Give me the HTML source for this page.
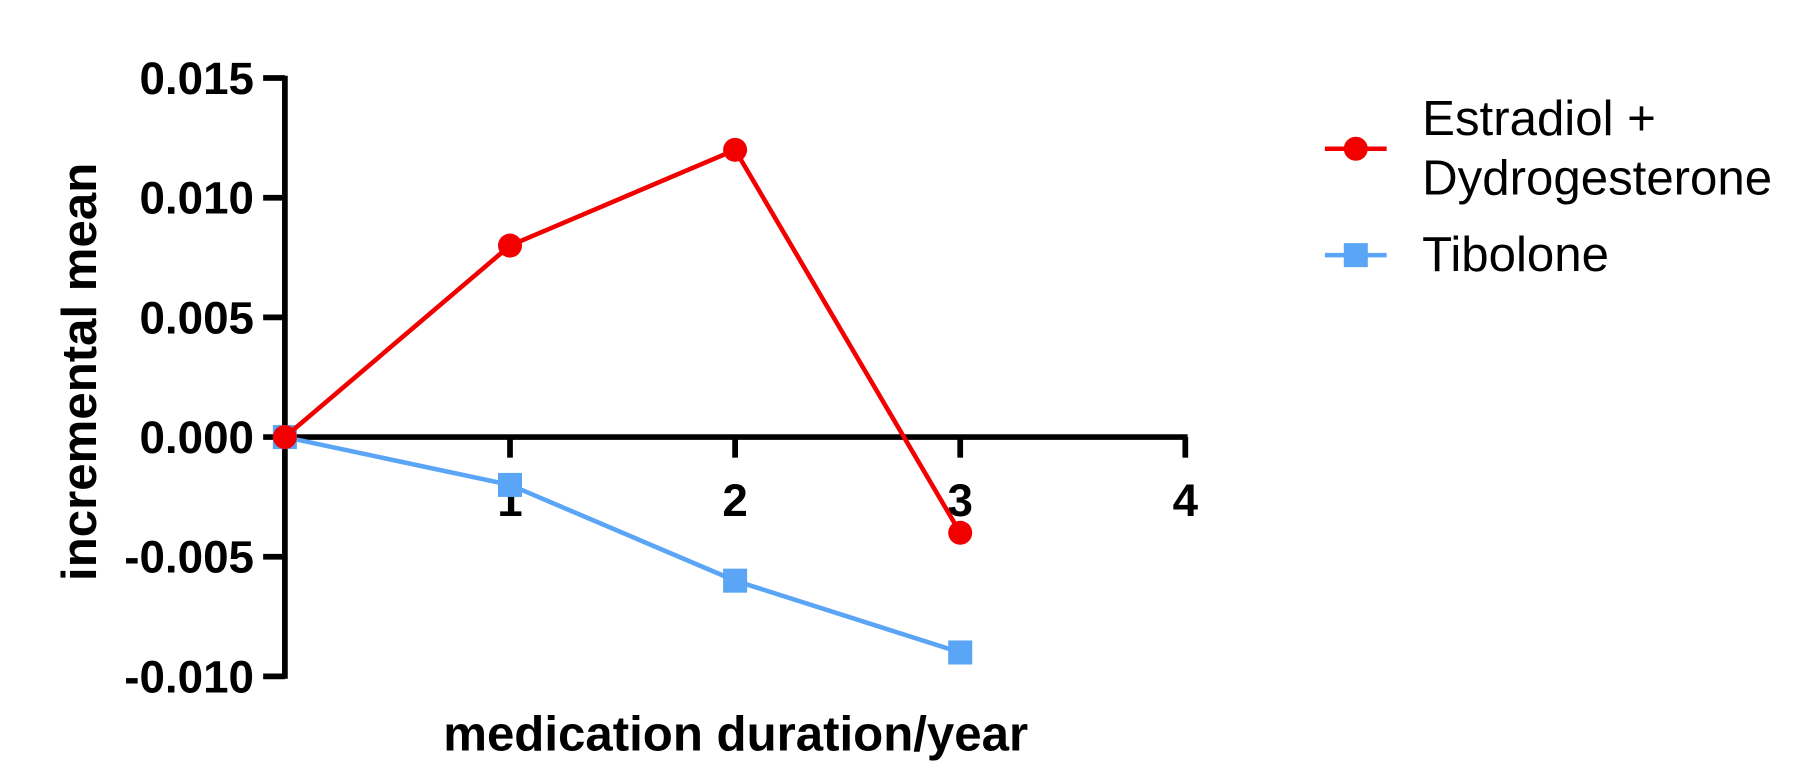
<!DOCTYPE html>
<html><head><meta charset="utf-8"><style>
body{margin:0;background:#fff;}
svg{display:block;font-family:"Liberation Sans",Arial,sans-serif;}
</style></head><body>
<svg id="chart" width="1794" height="774" viewBox="0 0 1568 676.5"></svg>
<script>
const years=[0,1,2,3];
const estradiolValues=[0,0.008,0.012,-0.004];
const tiboloneValues=[0,-0.002,-0.006,-0.009];
const yTicks=[0.015,0.010,0.005,0.000,-0.005,-0.010];
const yTickLabels=["0.015","0.010","0.005","0.000","-0.005","-0.010"];
const xTicks=[1,2,3,4];
const xTickLabels=["1","2","3","4"];

const svg=document.getElementById('chart');
const NS='http://www.w3.org/2000/svg';
const X=v=>249+v*196.75;
const Y=v=>382-v*20920;
function mk(tag,attrs,name){const e=document.createElementNS(NS,tag);for(const k in attrs)e.setAttribute(k,attrs[k]);


svg.appendChild(e);return e;}

mk('line',{x1:249,y1:Y(0.015)-2,x2:249,y2:Y(-0.010)+2,stroke:'#000','stroke-width':5},'y-axis');
mk('line',{x1:247,y1:Y(0),x2:X(4)+2,y2:Y(0),stroke:'#000','stroke-width':5},'x-axis');
yTicks.forEach((t,i)=>{
  mk('line',{x1:230,y1:Y(t),x2:249,y2:Y(t),stroke:'#000','stroke-width':5},'y-tick');
  const tx=mk('text',{x:222,y:Y(t)+14,'text-anchor':'end','font-size':40,'font-weight':'bold'},'y-tick-label');
  tx.textContent=yTickLabels[i];
});
xTicks.forEach((t,i)=>{
  mk('line',{x1:X(t),y1:Y(0),x2:X(t),y2:Y(0)+18,stroke:'#000','stroke-width':5},'x-tick');
  const tx=mk('text',{x:X(t),y:451,'text-anchor':'middle','font-size':40,'font-weight':'bold'},'x-tick-label');
  tx.textContent=xTickLabels[i];
});
const yt=mk('text',{x:0,y:0,transform:'translate(84,325) rotate(-90)','text-anchor':'middle','font-size':43,'font-weight':'bold'},'y-axis-title');
yt.textContent='incremental mean';
const xt=mk('text',{x:643,y:656,'text-anchor':'middle','font-size':43,'font-weight':'bold'},'x-axis-title');
xt.textContent='medication duration/year';

function series(vals,color,shape,name){
  mk('polyline',{points:vals.map((v,i)=>X(years[i])+','+Y(v)).join(' '),fill:'none',stroke:color,'stroke-width':4},name+'-line');
  vals.forEach((v,i)=>{
    if(shape==='circle')mk('circle',{cx:X(years[i]),cy:Y(v),r:10.5,fill:color},name+'-point');
    else mk('rect',{x:X(years[i])-10.5,y:Y(v)-10.5,width:21,height:21,fill:color},name+'-point');
  });
}
series(tiboloneValues,'#5aa5f5','rect','tibolone');
series(estradiolValues,'#f20000','circle','estradiol');

mk('line',{x1:1158,y1:130,x2:1212,y2:130,stroke:'#f20000','stroke-width':4},'legend-estradiol-line');
mk('circle',{cx:1185,cy:130,r:10.5,fill:'#f20000'},'legend-estradiol-marker');
let t1=mk('text',{x:1243,y:118,'font-size':43},'legend-estradiol-label');t1.textContent='Estradiol +';
let t2=mk('text',{x:1243,y:170,'font-size':43},'legend-estradiol-label-2');t2.textContent='Dydrogesterone';
mk('line',{x1:1158,y1:223,x2:1212,y2:223,stroke:'#5aa5f5','stroke-width':4},'legend-tibolone-line');
mk('rect',{x:1174.5,y:212.5,width:21,height:21,fill:'#5aa5f5'},'legend-tibolone-marker');
let t3=mk('text',{x:1243,y:237,'font-size':43},'legend-tibolone-label');t3.textContent='Tibolone';
</script>
</body></html>
